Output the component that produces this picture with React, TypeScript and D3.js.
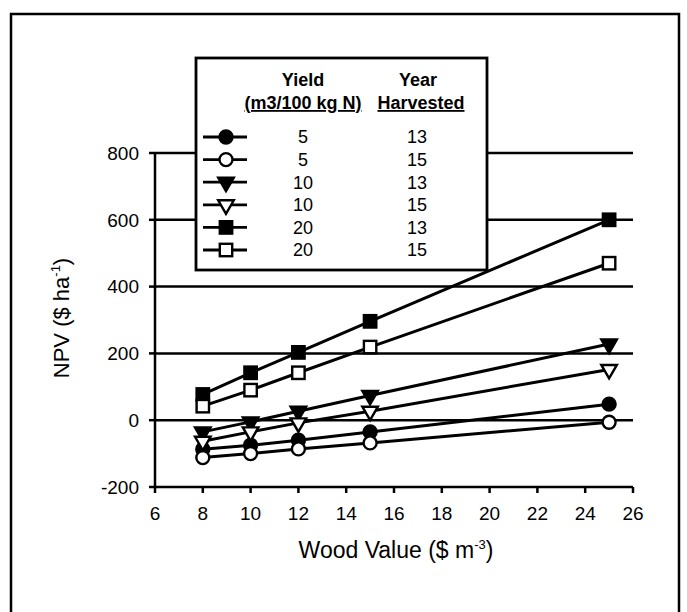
import { useMemo } from "react";
import * as d3 from "d3";

const woodValues = [8, 10, 12, 15, 25];
const xTicks = [6, 8, 10, 12, 14, 16, 18, 20, 22, 24, 26];
const yTicks = [-200, 0, 200, 400, 600, 800];
const gridValues = [0, 200, 400, 600, 800];

const yields = ["5", "5", "10", "10", "20", "20"];
const years = ["13", "15", "13", "15", "13", "15"];
const markers = ["circle", "circle", "triangle", "triangle", "square", "square"];
const filled = [true, false, true, false, true, false];

const npvFilledCircle = [-87, -75, -60, -35, 48];
const npvOpenCircle = [-112, -100, -86, -68, -6];
const npvFilledTriangle = [-35, -5, 27, 74, 228];
const npvOpenTriangle = [-63, -35, -8, 27, 152];
const npvFilledSquare = [77, 142, 203, 296, 600];
const npvOpenSquare = [42, 90, 142, 219, 470];

const seriesValues = [
  npvFilledCircle,
  npvOpenCircle,
  npvFilledTriangle,
  npvOpenTriangle,
  npvFilledSquare,
  npvOpenSquare,
];

const FONT = "'Liberation Sans', Arial, Helvetica, sans-serif";

const dims = {
  width: 687,
  height: 612,
  margin: { top: 153, right: 54, bottom: 125, left: 155 },
};

const Marker = ({ kind, fill, x, y }: { kind: string; fill: boolean; x: number; y: number }) => {
  const f = fill ? "#000" : "#fff";
  if (kind === "circle") {
    return <circle cx={x} cy={y} r={6.5} fill={f} stroke="#000" strokeWidth={2.4} />;
  }
  if (kind === "square") {
    return <rect x={x - 6.2} y={y - 6.2} width={12.4} height={12.4} fill={f} stroke="#000" strokeWidth={2.4} />;
  }
  const tri = d3.symbol().type(d3.symbolTriangle).size(105)();
  return (
    <path d={tri || ""} transform={`translate(${x},${y}) rotate(180)`} fill={f} stroke="#000" strokeWidth={2.4} />
  );
};

export default function App() {
  const { width, height, margin } = dims;
  const innerW = width - margin.left - margin.right;
  const innerH = height - margin.top - margin.bottom;

  const xScale = useMemo(() => d3.scaleLinear().domain([6, 26]).range([0, innerW]), [innerW]);
  const yScale = useMemo(() => d3.scaleLinear().domain([-200, 800]).range([innerH, 0]), [innerH]);

  const line = d3
    .line<number>()
    .x((_, i) => xScale(woodValues[i]))
    .y((d) => yScale(d));

  const legendRowY = (i: number) => 137 + i * 22.6;

  return (
    <svg
      width={width}
      height={height}
      style={{ position: "absolute", left: 0, top: 0, background: "#fff" }}
      fontFamily={FONT}
    >
      {/* outer frame */}
      <path d="M11,612 L11,14 L679,14 L679,612" fill="none" stroke="#000" strokeWidth={2.5} />

      <g transform={`translate(${margin.left},${margin.top})`}>
        {/* horizontal reference lines */}
        {gridValues.map((v) => (
          <line key={v} x1={0} x2={innerW} y1={yScale(v)} y2={yScale(v)} stroke="#000" strokeWidth={2.5} />
        ))}

        {/* axes */}
        <line x1={0} x2={0} y1={0} y2={innerH} stroke="#000" strokeWidth={2.5} />
        <line x1={0} x2={innerW} y1={innerH} y2={innerH} stroke="#000" strokeWidth={2.5} />
        {yTicks.map((t) => (
          <g key={t} transform={`translate(0,${yScale(t)})`}>
            <line x1={-6} x2={0} stroke="#000" strokeWidth={2.5} />
            <text x={-16} dy="0.36em" textAnchor="end" fontSize={19}>
              {t}
            </text>
          </g>
        ))}
        {xTicks.map((t) => (
          <g key={t} transform={`translate(${xScale(t)},${innerH})`}>
            <line y1={0} y2={6} stroke="#000" strokeWidth={2.5} />
            <text y={33} textAnchor="middle" fontSize={19}>
              {t}
            </text>
          </g>
        ))}

        {/* series */}
        {seriesValues.map((vals, s) => (
          <path key={`l${s}`} d={line(vals) || ""} fill="none" stroke="#000" strokeWidth={3} />
        ))}
        {seriesValues.map((vals, s) =>
          vals.map((v, i) => (
            <Marker key={`m${s}-${i}`} kind={markers[s]} fill={filled[s]} x={xScale(woodValues[i])} y={yScale(v)} />
          ))
        )}
      </g>

      {/* legend */}
      <rect x={196} y={58} width={291} height={212} fill="#fff" stroke="#000" strokeWidth={2.8} />
      <text x={303} y={86} textAnchor="middle" fontSize={18} fontWeight="bold">
        Yield
      </text>
      <text x={303} y={109} textAnchor="middle" fontSize={18} fontWeight="bold" textDecoration="underline">
        (m3/100 kg N)
      </text>
      <text x={418} y={86} textAnchor="middle" fontSize={18} fontWeight="bold">
        Year
      </text>
      <text x={421} y={109} textAnchor="middle" fontSize={18} fontWeight="bold" textDecoration="underline">
        Harvested
      </text>
      {yields.map((yv, i) => (
        <g key={`lg${i}`}>
          <line x1={203} x2={247} y1={legendRowY(i)} y2={legendRowY(i)} stroke="#000" strokeWidth={2.8} />
          <Marker kind={markers[i]} fill={filled[i]} x={226} y={legendRowY(i)} />
          <text x={303} y={legendRowY(i)} dy="0.36em" textAnchor="middle" fontSize={18}>
            {yv}
          </text>
          <text x={417} y={legendRowY(i)} dy="0.36em" textAnchor="middle" fontSize={18}>
            {years[i]}
          </text>
        </g>
      ))}

      {/* axis titles */}
      <text x={396} y={558} textAnchor="middle" fontSize={23}>
        Wood Value ($ m
        <tspan fontSize={13} dy={-9}>
          -3
        </tspan>
        <tspan dy={9}>)</tspan>
      </text>
      <text transform="translate(69,318) rotate(-90)" textAnchor="middle" fontSize={22}>
        NPV ($ ha
        <tspan fontSize={13} dy={-9}>
          -1
        </tspan>
        <tspan dy={9}>)</tspan>
      </text>
    </svg>
  );
}
